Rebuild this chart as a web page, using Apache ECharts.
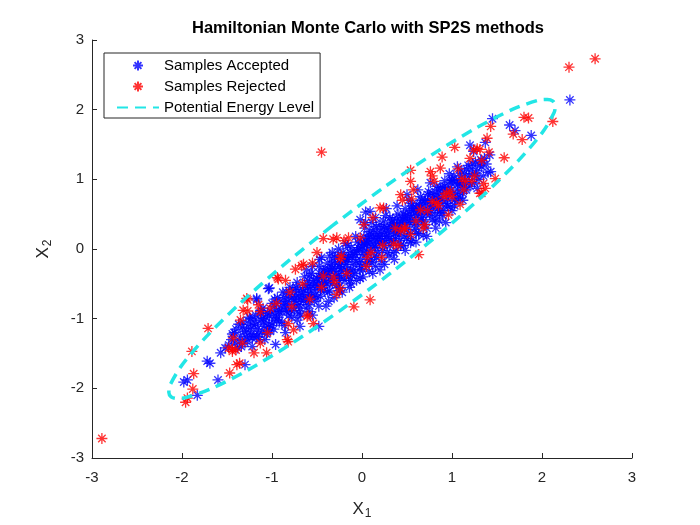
<!DOCTYPE html>
<html>
<head>
<meta charset="utf-8">
<title>Hamiltonian Monte Carlo with SP2S methods</title>
<script src="https://cdn.jsdelivr.net/npm/echarts@6/dist/echarts.min.js"></script>
<style>
  html, body { margin: 0; padding: 0; background: #ffffff; }
  #chart { width: 700px; height: 525px; }
</style>
</head>
<body>
<div id="chart"></div>
<script>
// samples, [x1, x2]
var accepted = [
  [-1.98,-1.91],[-1.94,-1.88],[-1.83,-2.10],[-1.60,-1.88],[-1.72,-1.61],[-1.69,-1.64],
  [-1.57,-1.49],[-1.52,-1.42],[-1.30,-1.66],[-1.24,-1.14],[-1.17,-1.26],[-1.22,-1.28],
  [-1.09,-1.11],[-1.02,-1.18],[-0.96,-1.37],[-1.17,-0.73],[-1.04,-0.57],[-1.03,-0.56],
  [-1.17,-0.71],[-0.48,-1.11],[-0.69,-1.11],[0.04,0.53],[0.09,0.54],[0.93,0.38],
  [1.09,0.73],[1.28,0.87],[1.43,1.11],[1.06,1.18],[1.20,1.49],[1.45,1.87],[1.64,1.78],
  [1.70,1.70],[1.88,1.63],[1.37,1.53],[2.31,2.14],[0.54,0.09],
  [-1.45,-1.30],[-1.40,-1.15],[-1.38,-1.42],[-1.35,-1.25],[-1.32,-1.05],[-1.30,-1.35],
  [-1.28,-1.18],[-1.25,-0.98],[-1.22,-1.40],[-1.20,-1.10],[-1.18,-0.95],[-1.15,-1.22],
  [-1.12,-1.02],[-1.10,-0.85],[-1.08,-1.30],[-1.05,-0.92],[-1.03,-1.08],[-1.00,-0.78],
  [-0.98,-1.15],[-0.96,-0.95],[-0.94,-0.70],[-0.92,-1.05],[-0.90,-0.85],[-0.88,-0.62],
  [-0.86,-1.10],[-0.84,-0.90],[-0.82,-0.75],[-0.80,-0.55],[-0.78,-0.98],[-0.76,-0.80],
  [-0.74,-0.65],[-0.72,-0.48],[-0.70,-0.92],[-0.68,-0.72],[-0.66,-0.58],[-0.64,-0.40],
  [-0.62,-0.85],[-0.60,-0.65],[-0.58,-0.50],[-0.56,-0.35],[-0.55,-0.95],[-0.53,-0.75],
  [-0.51,-0.58],[-0.50,-0.42],[-0.48,-0.25],[-0.46,-0.68],[-0.44,-0.52],[-0.42,-0.36],
  [-0.40,-0.82],[-0.38,-0.20],[-0.36,-0.60],[-0.35,-0.45],[-0.33,-0.28],[-0.31,-0.70],
  [-0.30,-0.12],[-0.28,-0.52],[-0.26,-0.38],[-0.24,-0.22],[-0.22,-0.62],[-0.21,-0.05],
  [-0.19,-0.45],[-0.18,-0.30],[-0.16,-0.15],[-0.14,-0.55],[-0.12,0.02],[-0.11,-0.38],
  [-0.10,-0.22],[-0.08,-0.08],[-0.06,-0.45],[-0.05,0.10],[-0.03,-0.30],[-0.02,-0.15],
  [0.00,0.00],[0.01,-0.40],[0.02,0.18],[0.04,-0.22],[0.05,-0.08],[0.06,0.08],
  [0.08,-0.32],[0.09,0.25],[0.10,-0.15],[0.12,0.02],[0.13,0.15],[0.15,-0.25],
  [0.16,0.32],[0.18,-0.05],[0.19,0.10],[0.21,0.22],[0.22,-0.18],[0.24,0.40],
  [0.25,0.05],[0.27,0.18],[0.28,0.30],[0.30,-0.10],[0.31,0.45],[0.33,0.12],
  [0.35,0.25],[0.36,0.36],[0.38,-0.02],[0.40,0.50],[0.41,0.20],[0.43,0.32],
  [0.45,0.42],[0.46,0.05],[0.48,0.58],[0.50,0.28],[0.51,0.40],[0.53,0.50],
  [0.55,0.12],[0.56,0.65],[0.58,0.35],[0.60,0.48],[0.61,0.58],[0.63,0.22],
  [0.65,0.75],[0.66,0.42],[0.68,0.55],[0.70,0.66],[0.72,0.30],[0.74,0.82],
  [0.75,0.50],[0.77,0.62],[0.79,0.72],[0.81,0.40],[0.83,0.90],[0.84,0.58],
  [0.86,0.70],[0.88,0.80],[0.90,0.48],[0.92,0.98],[0.94,0.65],[0.96,0.78],
  [0.98,0.88],[1.00,0.55],[1.02,1.05],[1.04,0.72],[1.06,0.85],[1.08,0.95],
  [1.10,1.12],[1.12,0.80],[1.15,1.00],[1.18,1.20],[1.20,0.90],[1.23,1.08],
  [1.26,1.25],[1.30,1.00],[1.33,1.18],[1.36,1.30],[1.40,1.10],
  [-1.10,-1.00],[-0.95,-0.88],[-0.85,-0.80],[-0.75,-0.72],[-0.65,-0.62],[-0.57,-0.55],
  [-0.50,-0.48],[-0.45,-0.40],[-0.40,-0.36],[-0.35,-0.32],[-0.30,-0.28],[-0.25,-0.25],
  [-0.20,-0.18],[-0.15,-0.12],[-0.10,-0.08],[-0.05,-0.04],[0.00,0.03],[0.05,0.06],
  [0.10,0.10],[0.15,0.16],[0.20,0.18],[0.25,0.24],[0.30,0.28],[0.35,0.34],
  [0.40,0.38],[0.45,0.44],[0.50,0.48],[0.55,0.56],[0.60,0.60],[0.65,0.64],
  [0.70,0.70],[0.80,0.78],[0.90,0.88],[1.00,0.98],
  [-0.70,-0.80],[-0.60,-0.45],[-0.42,-0.60],[-0.27,-0.10],[-0.13,-0.30],[0.03,0.30],
  [0.14,-0.10],[0.26,0.48],[0.37,0.15],[0.52,0.70],[0.62,0.35],[0.76,0.95],
  [0.87,0.55],[0.97,1.08],[1.13,0.92],[1.24,1.40],[-0.02,0.42],[0.11,0.38],
  [-0.18,0.08],[-0.33,-0.05],[-0.47,-0.15],[0.20,-0.30],[0.35,-0.05],[0.47,0.18],
  [0.68,0.20],[0.82,0.30],
  [-1.42,-1.20],[-1.36,-1.32],[-1.33,-1.12],[-1.29,-1.26],[-1.26,-1.08],[-1.23,-1.22],
  [-1.19,-1.02],[-1.16,-1.15],[-1.13,-0.92],[-1.11,-1.18],[-1.07,-0.98],[-1.04,-1.12],
  [-1.01,-0.90],[-0.99,-1.02],[-0.97,-0.82],[-0.93,-0.98],[-0.91,-0.76],[-0.89,-0.90],
  [-0.87,-0.70],[-0.83,-0.85],[-0.81,-0.68],[-0.79,-0.88],[-0.77,-0.58],[-0.73,-0.75],
  [-0.71,-0.60],[-0.69,-0.85],[-0.67,-0.66],[-0.63,-0.72],[-0.61,-0.55],[-0.59,-0.80],
  [-0.57,-0.62],[-0.54,-0.45],[-0.52,-0.66],[-0.49,-0.52],[-0.47,-0.35],[-0.43,-0.46],
  [-0.41,-0.28],[-0.39,-0.50],[-0.37,-0.38],[-0.34,-0.22],[-0.32,-0.42],[-0.29,-0.35],
  [-0.27,-0.20],[-0.25,-0.45],[-0.23,-0.32],[-0.20,-0.10],[-0.17,-0.22],[-0.15,-0.40],
  [-0.13,-0.05],[-0.09,-0.30],[-0.07,-0.18],[-0.04,0.02],[-0.01,-0.25],[0.01,-0.08],
  [0.03,0.06],[0.06,-0.18],[0.07,0.15],[0.09,-0.02],[0.11,0.20],[0.14,0.05],
  [0.16,-0.12],[0.17,0.22],[0.20,0.08],[0.22,0.30],[0.23,-0.02],[0.26,0.12],
  [0.29,0.20],[0.31,0.05],[0.32,0.32],[0.34,0.42],[0.37,0.22],[0.39,0.30],
  [0.42,0.12],[0.44,0.38],[0.46,0.50],[0.49,0.35],[0.52,0.22],[0.54,0.45],
  [0.57,0.55],[0.59,0.28],[0.62,0.50],[0.64,0.62],[0.67,0.45],[0.69,0.35],
  [0.71,0.58],[0.73,0.70],[0.76,0.52],[0.78,0.80],[0.80,0.62],[0.82,0.48],
  [0.85,0.75],[0.87,0.88],[0.89,0.65],[0.91,0.55],[0.93,0.85],[0.95,0.72],
  [0.99,0.95],[1.01,0.80],[1.03,0.62],[1.05,0.98],[1.07,0.78],[1.11,0.95],
  [1.14,1.08],[1.16,0.85],[1.19,1.05],[1.22,1.15],[1.25,0.95],[1.28,1.12],
  [1.32,1.28],[1.35,1.05],[1.38,1.22],[1.42,1.35],
  [-0.62,-0.30],[-0.55,-0.25],[-0.45,-0.12],[-0.36,-0.10],[-0.26,0.00],[-0.16,0.05],
  [-0.07,0.18],[0.04,0.38],[0.15,0.45],[0.27,0.58],[0.39,0.62],[0.50,0.78],
  [0.62,0.85],[-0.85,-1.20],[-0.72,-1.02],[-0.58,-0.90],[-0.48,-0.82],[-0.37,-0.75],
  [-0.25,-0.60],[-0.12,-0.50],[-0.02,-0.42],[0.12,-0.35],[0.25,-0.22],[0.36,-0.15],
  [0.48,-0.02],[0.60,0.10],[0.72,0.18],[0.86,0.40],[0.98,0.60],[1.12,0.70],
  [-1.48,-1.38],[-1.44,-1.22],[-1.41,-1.35],[-1.37,-1.08],[-1.34,-1.40],[-1.31,-1.18],
  [-1.27,-1.30],[-1.24,-1.00],[-1.21,-1.25],[-1.18,-1.08],[-1.14,-1.30],[-1.12,-0.88],
  [-1.09,-1.05],[-1.06,-1.22],[-1.03,-0.95],[-1.00,-1.10],[-0.97,-0.72],[-0.95,-1.02],
  [-0.92,-0.90],[-0.89,-1.05],[-0.86,-0.78],[-0.84,-0.62],[-0.81,-0.95],[-0.78,-0.70],
  [-0.75,-0.88],[-0.73,-0.55],[-0.70,-0.68],[-0.68,-0.95],[-0.65,-0.75],[-0.63,-0.52],
  [-0.60,-0.72],[-0.58,-0.38],[-0.56,-0.68],[-0.53,-0.52],[-0.50,-0.70],[-0.48,-0.40],
  [-0.46,-0.58],[-0.43,-0.30],[-0.41,-0.48],[-0.38,-0.62],[-0.36,-0.30],[-0.33,-0.50],
  [-0.31,-0.18],[-0.28,-0.40],[-0.26,-0.55],[-0.23,-0.28],[-0.21,-0.42],[-0.18,-0.15],
  [-0.16,-0.32],[-0.13,-0.45],[-0.11,-0.12],[-0.08,-0.35],[-0.06,-0.02],[-0.03,-0.20],
  [-0.01,0.10],[0.01,-0.30],[0.04,0.12],[0.06,-0.05],[0.08,0.20],[0.11,-0.20],
  [0.13,0.28],[0.15,0.02],[0.18,0.15],[0.20,0.35],[0.23,0.12],[0.25,0.32],
  [0.28,-0.05],[0.30,0.15],[0.33,0.38],[0.35,0.10],[0.38,0.45],[0.40,0.25],
  [0.43,0.05],[0.45,0.30],[0.48,0.48],[0.50,0.15],[0.53,0.38],[0.55,0.62],
  [0.58,0.42],[0.60,0.22],[0.63,0.55],[0.66,0.70],[0.68,0.40],[0.71,0.50],
  [0.73,0.78],[0.76,0.60],[0.78,0.42],[0.81,0.70],[0.84,0.85],[0.86,0.52],
  [0.89,0.72],[0.92,0.90],[0.95,0.62],[0.97,0.82],[1.00,1.00],[1.03,0.70],
  [1.06,0.92],[1.09,1.05],[1.12,0.88],[1.16,1.15],[1.19,0.95],[1.23,1.22],
  [1.27,1.05],[1.31,1.20]
];

var rejected = [
  [-2.89,-2.72],[2.59,2.73],[2.30,2.61],[-0.45,1.39],[2.12,1.83],[1.80,1.89],[1.85,1.88],
  [1.43,1.76],[1.68,1.65],[1.78,1.57],[1.39,1.59],[1.58,1.31],[1.48,1.01],[1.33,0.80],
  [0.63,-0.08],[1.09,0.64],[0.96,0.49],[0.09,-0.73],[-0.09,-0.83],[-0.94,-0.41],
  [-0.43,0.15],[-1.71,-1.14],[-1.89,-1.47],[-1.87,-1.79],[-1.88,-2.01],[-1.96,-2.20],
  [-1.94,-2.14],[-1.47,-1.78],[-1.39,-1.66],[-1.36,-1.64],[-1.43,-1.28],[-1.48,-1.42],
  [-1.44,-1.47],[-1.33,-1.35],[-1.35,-1.02],[-1.32,-0.88],[-1.27,-0.89],[-1.27,-0.73],
  [-0.93,-0.43],[-1.20,-1.49],[-1.06,-1.49],[-1.13,-1.35],[-0.83,-1.30],[-1.13,-0.90],
  [-1.02,-0.85],[-0.82,-1.07],[-1.44,-1.44],[-1.40,-1.45],[-1.28,-0.71],[-0.82,-1.33],
  [-0.74,-0.29],[-0.67,-0.24],[-0.65,-0.22],[-0.50,-0.05],[-0.32,0.14],[-0.28,0.16],
  [-0.54,-1.07],[-0.78,-0.83],[-0.76,-1.16],[-0.61,-0.97],[0.02,0.35],[0.20,0.59],
  [-0.32,-0.40],[-0.43,-0.39],[-0.24,-0.14],[0.06,-0.12],[-0.15,0.16],[-0.02,0.16],
  [0.22,-0.12],[-0.24,-0.57],[0.54,1.13],[0.76,1.11],[0.89,1.32],[1.03,1.46],
  [1.24,1.42],[1.28,1.44],[1.31,1.43],[1.41,1.39],[1.33,1.27],[1.35,0.94],[1.37,0.87],
  [1.31,0.80],[1.11,1.01],[1.15,0.97],[1.22,0.97],[0.94,0.80],[0.98,0.83],[0.91,0.75],
  [0.80,0.97],[0.87,1.16],[0.54,0.97],[0.57,0.85],[0.43,0.78],[0.78,0.68],[0.83,0.66],
  [0.65,0.56],[0.24,0.59],[0.37,0.30],[0.43,0.26],[0.48,0.30],[0.54,0.21],[0.68,0.30],
  [0.35,0.07],
  [-0.95,-0.78],[-0.80,-0.62],[-0.66,-0.50],[-0.58,-0.72],[-0.45,-0.55],[-0.30,-0.48],
  [-0.23,-0.10],[-0.17,-0.35],[0.10,-0.05],[0.23,0.05],[0.47,0.30],[0.55,0.72],
  [0.60,0.40],[0.73,0.55],[0.85,0.62],[1.00,0.75],[1.07,1.15],[1.13,0.85],
  [1.20,1.30],[1.25,1.05],[-1.05,-1.20],[-1.15,-0.80],[-0.60,-0.95],[-0.28,-0.65],
  [0.05,-0.25],[0.40,0.05],[0.70,0.35],[-0.85,-0.45],[-0.55,-0.20],[-0.20,0.12],
  [0.12,0.45],[0.45,0.70],[0.78,1.05]
];

// potential energy contour, traced round the picture
var energyLevel = [
  [-0.332,0.332],[-0.870,-0.228],[-1.349,-0.773],[-1.735,-1.265],[-2.003,-1.671],
  [-2.136,-1.963],[-2.146,-2.060],[-2.121,-2.121],[-2.060,-2.146],[-1.963,-2.136],
  [-1.671,-2.003],[-1.265,-1.735],[-0.773,-1.349],[-0.228,-0.870],[0.332,-0.332],
  [0.870,0.228],[1.349,0.773],[1.735,1.265],[2.003,1.671],[2.136,1.963],
  [2.146,2.060],[2.121,2.121],[2.060,2.146],[1.963,2.136],[1.671,2.003],
  [1.265,1.735],[0.773,1.349],[0.228,0.870],[-0.332,0.332]
];

var axisMin = -3, axisMax = 3, axisStep = 1;

var FONT = '"Liberation Sans", Arial, Helvetica, sans-serif';
var INK = '#262626';
var CYAN = '#22e6e6';
// MATLAB '*' marker, drawn as strokes
var STAR = 'path://M5 0L5 10M0 5L10 5M1.6 1.6L8.4 8.4M1.6 8.4L8.4 1.6';

function starSeries(name, data, colour){
	return {
		name: name,
		type: 'scatter',
		data: data,
		symbol: STAR,
		symbolSize: 11,
		itemStyle: {
			color: 'transparent',
			borderColor: colour,
			borderWidth: 1.3
		},
		emphasis: { disabled: true },
		animation: false
	};
}

function valueAxis(name, gap, labelMargin){
	return {
		type: 'value',
		min: axisMin,
		max: axisMax,
		interval: axisStep,
		name: name,
		nameLocation: 'middle',
		nameGap: gap,
		nameTextStyle: {
			color: INK,
			fontFamily: FONT,
			rich: {
				v: { fontSize: 17, fontFamily: FONT, color: INK },
				s: { fontSize: 12, fontFamily: FONT, color: INK, padding: [10, 0, 0, 1] }
			}
		},
		axisLine: { show: true, onZero: false, lineStyle: { color: INK, width: 1 } },
		axisTick: { show: true, inside: true, length: 5, lineStyle: { color: INK } },
		axisLabel: { color: INK, fontSize: 15, fontFamily: FONT, margin: labelMargin },
		splitLine: { show: false }
	};
}

var chart = echarts.init(document.getElementById('chart'), null, { renderer: 'canvas' });

chart.setOption({
	backgroundColor: '#ffffff',
	animation: false,
	title: {
		text: 'Hamiltonian Monte Carlo with SP2S methods',
		left: 363,
		top: 15,
		textAlign: 'center',
		textStyle: { fontFamily: FONT, fontSize: 16.5, fontWeight: 'bold', color: '#000000' }
	},
	grid: { left: 92, right: 68, top: 40, bottom: 62, containLabel: false },
	legend: {
		orient: 'vertical',
		left: 104,
		top: 53,
		padding: [5, 6, 3, 12],
		itemWidth: 42,
		itemHeight: 10,
		itemGap: 6,
		borderColor: INK,
		borderWidth: 1,
		backgroundColor: '#ffffff',
		selectedMode: false,
		textStyle: { fontFamily: FONT, fontSize: 15, color: '#000000' },
		data: [
			'Samples Accepted',
			'Samples Rejected',
			{
				name: 'Potential Energy Level',
				itemStyle: { color: 'transparent', borderColor: 'transparent', borderWidth: 0 }
			}
		]
	},
	xAxis: valueAxis('{v|X}{s|1}', 40, 12),
	yAxis: valueAxis('{v|X}{s|2}', 38, 8),
	series: [
		starSeries('Samples Accepted', accepted, '#0000ff'),
		starSeries('Samples Rejected', rejected, '#ff0000'),
		{
			name: 'Potential Energy Level',
			type: 'line',
			data: energyLevel,
			showSymbol: false,
			symbol: 'none',
			smooth: 0.3,
			lineStyle: { color: CYAN, width: 3.5, type: [11, 7], cap: 'butt' },
			itemStyle: { color: CYAN },
			emphasis: { disabled: true },
			animation: false,
			z: 3
		}
	]
});
</script>
</body>
</html>
